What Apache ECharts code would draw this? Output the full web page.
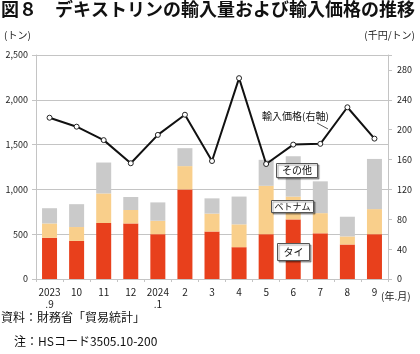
<!DOCTYPE html>
<html>
<head>
<meta charset="utf-8">
<script src="https://cdn.jsdelivr.net/npm/echarts@6/dist/echarts.min.js"></script>
<style>
  body { margin: 0; padding: 0; background: #fff; }
  #chart { width: 420px; height: 354px; }
</style>
</head>
<body>
<div id="chart"></div>
<script>
// 年.月
var months = ['2023\n.9', '10', '11', '12', '2024\n.1', '2', '3', '4', '5', '6', '7', '8', '9'];
// 輸入量 (トン)
var thai    = [460, 425, 625, 620, 500, 1000, 530, 355, 500, 665, 510, 385, 500];
var vietnam = [160, 155, 330, 150, 150, 260, 200, 255, 540, 255, 225, 90, 280];
var others  = [170, 255, 345, 145, 205, 200, 170, 310, 290, 450, 355, 220, 560];
// 輸入価格 (千円/トン)
var price   = [216, 204, 186, 155, 193, 220, 158, 269, 154, 180, 181, 230, 188];

var chart = echarts.init(document.getElementById('chart'));
var font = 'Noto Sans CJK JP';
var gridColor = '#c4c4c4';

// 凡例の枠付きラベル
function boxLabel(text, x, y, w, h, size) {
  return {
    type: 'group', left: x, top: y, z: 100,
    children: [
      { type: 'rect', z: 100, shape: { x: 0, y: 0, width: w, height: h },
        style: { fill: '#fff', stroke: '#555', lineWidth: 1,
                 shadowColor: 'rgba(0,0,0,0.35)', shadowOffsetX: 1.5, shadowOffsetY: 1.5, shadowBlur: 1 } },
      { type: 'text', z: 101, x: w / 2, y: h / 2,
        style: { text: text, fontSize: size, fontFamily: font, fill: '#111',
                 align: 'center', verticalAlign: 'middle' } }
    ]
  };
}

chart.setOption({
  animation: false,
  textStyle: { fontFamily: font },
  title: {
    text: '図８　デキストリンの輸入量および輸入価格の推移',
    left: 1, top: 0, padding: 0,
    textStyle: { fontSize: 18, fontWeight: 'bold', color: '#111', fontFamily: font }
  },
  grid: { left: 36, right: 32, top: 55, bottom: 75 },
  xAxis: {
    type: 'category',
    data: months,
    axisLine: { lineStyle: { color: gridColor } },
    axisTick: { show: true, length: 3, lineStyle: { color: gridColor } },
    axisLabel: { fontSize: 10, color: '#222', lineHeight: 12, margin: 7, interval: 0 }
  },
  yAxis: [{
    type: 'value', min: 0, max: 2500, interval: 500,
    axisLine: { show: true, lineStyle: { color: gridColor } },
    axisTick: { show: true, length: 4, lineStyle: { color: gridColor } },
    axisLabel: { fontSize: 9, color: '#222', margin: 8,
                 formatter: function (v) { return v.toLocaleString('en-US'); } },
    splitLine: { lineStyle: { color: gridColor } }
  }, {
    type: 'value', position: 'right', min: 0, max: 300, interval: 40,
    axisLine: { show: true, lineStyle: { color: gridColor } },
    axisTick: { show: true, length: 4, lineStyle: { color: gridColor } },
    axisLabel: { fontSize: 9, color: '#222', margin: 9,
                 formatter: function (v) { return v > 280 ? '' : v; } },
    splitLine: { show: false }
  }],
  series: [{
    name: 'タイ', type: 'bar', stack: 'vol', barWidth: 15, data: thai,
    itemStyle: { color: '#e8401c' }
  }, {
    name: 'ベトナム', type: 'bar', stack: 'vol', data: vietnam,
    itemStyle: { color: '#f9cf8b' }
  }, {
    name: 'その他', type: 'bar', stack: 'vol', data: others,
    itemStyle: { color: '#cacaca' }
  }, {
    name: '輸入価格', type: 'line', yAxisIndex: 1, data: price,
    symbol: 'circle', symbolSize: 5,
    lineStyle: { color: '#111', width: 2 },
    itemStyle: { color: '#fff', borderColor: '#222', borderWidth: 1 },
    z: 5
  }],
  graphic: [
    { type: 'text', left: 4, top: 30, style: { text: '(トン)', fontSize: 10, fontFamily: font, fill: '#222' } },
    { type: 'text', right: 5, top: 30, style: { text: '(千円/トン)', fontSize: 10, fontFamily: font, fill: '#222' } },
    { type: 'text', left: 381, top: 291, style: { text: '(年.月)', fontSize: 10, fontFamily: font, fill: '#222' } },
    { type: 'text', left: 262, top: 111, z: 100, style: { text: '輸入価格(右軸)', fontSize: 10, fontFamily: font, fill: '#111' } },
    { type: 'line', z: 100, shape: { x1: 317, y1: 123, x2: 328, y2: 129 }, style: { stroke: '#555', lineWidth: 1 } },
    boxLabel('その他', 276, 163, 41, 14, 10),
    boxLabel('ベトナム', 271, 200, 42, 12, 9),
    boxLabel('タイ', 277, 243, 32, 17, 10),
    { type: 'text', left: 1, top: 311, style: { text: '資料：財務省「貿易統計」', fontSize: 12, fontFamily: font, fill: '#111' } },
    { type: 'text', left: 14, top: 335, style: { text: '注：HSコード3505.10-200', fontSize: 12, fontFamily: font, fill: '#111' } }
  ]
});
</script>
</body>
</html>
